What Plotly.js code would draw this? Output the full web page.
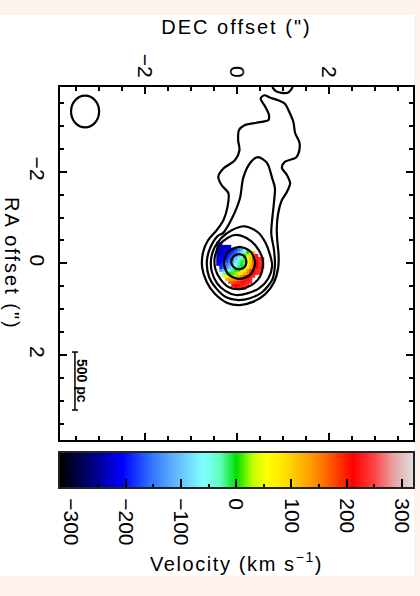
<!DOCTYPE html>
<html><head><meta charset="utf-8">
<script src="https://cdn.plot.ly/plotly-3.0.1.min.js"></script>
<style>
html,body{margin:0;padding:0;background:#fdf3ec}
.main-svg .xtitle,.main-svg .annotation[data-index="0"] .annotation-text{letter-spacing:2px}
.main-svg .x2title{letter-spacing:1.6px}
</style></head><body><div id="chart" style="width:420px;height:596px"></div>
<script>
// Contours (DEC offset, RA offset in arcsec)
const contourAx=[0.60,0.72,0.90,1.05,1.14,1.23,1.27,1.36,1.36,1.29,1.05,0.98,1.09,1.16,1.09,0.98,0.90,0.87,0.88,0.91,0.90,0.81,0.62,0.35,0.07,-0.19,-0.47,-0.65,-0.75,-0.73,-0.62,-0.43,-0.29,-0.20,-0.18,-0.33,-0.40,-0.29,-0.04,0.06,0.03,0.05,0.18,0.43,0.69,0.70,0.62,0.52,0.60];
const contourAy=[-3.67,-3.62,-3.56,-3.48,-3.31,-3.09,-2.84,-2.65,-2.47,-2.31,-2.22,-2.09,-1.93,-1.75,-1.56,-1.38,-1.09,-0.76,-0.51,-0.18,0.10,0.41,0.67,0.84,0.91,0.87,0.67,0.41,0.10,-0.25,-0.51,-0.73,-0.94,-1.24,-1.53,-1.71,-1.89,-2.07,-2.25,-2.47,-2.69,-2.91,-3.02,-3.07,-3.13,-3.24,-3.42,-3.60,-3.67];
const contourBx=[0.46,0.66,0.77,0.83,0.81,0.75,0.81,0.83,0.77,0.55,0.29,0.03,-0.23,-0.45,-0.60,-0.65,-0.58,-0.41,-0.30,-0.10,0.07,0.14,0.29,0.46];
const contourBy=[-2.32,-2.19,-1.86,-1.64,-1.34,-0.66,-0.29,0.04,0.36,0.63,0.76,0.80,0.74,0.54,0.30,-0.03,-0.33,-0.60,-0.66,-0.99,-1.42,-1.86,-2.19,-2.32];
const contourCx=[0.18,0.46,0.62,0.72,0.77,0.68,0.49,0.25,-0.02,-0.25,-0.43,-0.54,-0.56,-0.49,-0.34,-0.10,0.18];
const contourCy=[-0.81,-0.68,-0.46,-0.20,0.06,0.34,0.54,0.65,0.69,0.60,0.43,0.19,-0.07,-0.33,-0.55,-0.73,-0.81];
const contourDx=[-0.04,0.22,0.40,0.55,0.57,0.51,0.33,0.07,-0.17,-0.36,-0.47,-0.47,-0.36,-0.21,-0.04];
const contourDy=[-0.62,-0.55,-0.40,-0.14,0.04,0.28,0.47,0.56,0.52,0.34,0.10,-0.18,-0.42,-0.55,-0.62];
const contourEx=[0.06,0.30,0.40,0.30,0.06,-0.18,-0.28,-0.18,0.06];
const contourEy=[-0.36,-0.26,-0.01,0.24,0.34,0.24,-0.01,-0.26,-0.36];
const contourFx=[0.05,0.17,0.21,0.17,0.05,-0.07,-0.12,-0.07,0.05];
const contourFy=[-0.20,-0.15,-0.03,0.08,0.13,0.08,-0.03,-0.15,-0.20];
const contourGx=[0.77,0.85,0.98,1.12,1.22];
const contourGy=[-3.85,-3.76,-3.72,-3.73,-3.85];
// Velocity field (km/s)
const velDec=[-0.41,-0.34,-0.28,-0.21,-0.15,-0.08,-0.02,0.05,0.11,0.18,0.24,0.31,0.37,0.44,0.50,0.57,0.63];
const velRa=[-0.44,-0.38,-0.31,-0.25,-0.18,-0.12,-0.05,0.02,0.08,0.15,0.21,0.28,0.34,0.41,0.47,0.54];
const n=null;
const velocity=[
[-240,-235,n,n,n,n,n,n,n,n,n,n,n,n,n,n,n],
[-240,-235,-230,-220,-210,n,n,n,n,n,n,n,n,n,n,n,n],
[-240,-235,-230,-225,-215,-200,-180,-150,-120,n,n,n,n,n,n,n,n],
[-240,-235,-225,-215,-200,-185,-160,-120,-80,-35,0,50,110,n,n,n,n],
[-235,-225,-215,-200,-185,-165,-130,-95,-55,-10,40,100,170,220,n,n,n],
[-230,-220,-205,-190,-170,-140,-105,-70,-35,5,55,110,170,220,235,240,n],
[-225,-210,-195,-175,-150,-120,-75,-35,-15,15,60,110,165,215,235,240,n],
[-215,-195,-175,-150,-125,-95,-55,-25,-5,25,70,115,165,210,235,240,n],
[n,-190,-165,-135,-105,-70,-40,-15,5,35,80,125,170,210,230,235,n],
[n,-130,-100,-70,-40,-20,-5,15,50,90,135,175,210,230,235,n,n],
[n,n,-40,-20,-5,10,20,40,70,110,150,190,215,230,235,n,n],
[n,n,50,60,70,80,95,120,150,180,210,225,235,n,n,n,n],
[n,n,n,120,130,135,145,160,180,200,220,230,n,n,n,n,n],
[n,n,n,n,170,175,180,190,205,220,230,235,n,n,n,n,n],
[n,n,n,n,n,205,210,215,225,232,238,n,n,n,n,n,n],
[n,n,n,n,n,n,225,230,235,240,n,n,n,n,n,n,n]];
// Colour bar samples
const barVelocity=[-320,-300,-280,-260,-240,-220,-200,-180,-160,-140,-120,-100,-80,-60,-40,-20,0,20,40,60,80,100,120,140,160,180,200,220,240,260,280,300,320];
const barLevel=[0,1];
const barTicks=[-300,-200,-100,0,100,200,300];
// Beam and scale bar (arcsec)
const beamDec=[-3.60,-2.99];
const beamRa=[-3.66,-2.97];
const scaleDec=[-3.58,-3.45,null,-3.515,-3.515,null,-3.58,-3.45];
const scaleRa=[1.935,1.935,null,1.935,3.20,null,3.20,3.20];

const colorscale=[[0,'#000000'],[0.175,'#0000ff'],[0.254,'#2f6fff'],[0.319,'#5fb0ff'],[0.405,'#80ffff'],[0.452,'#60ffc0'],[0.499,'#00e000'],[0.546,'#c0ff00'],[0.585,'#ffff00'],[0.64,'#ffe000'],[0.734,'#ff8000'],[0.828,'#ff0000'],[0.886,'#ff4040'],[0.942,'#e8a0a0'],[1,'#e0e0e0']];
const W=420,H=596,font='"Liberation Sans",Arial,sans-serif';
const contour=(x,y,shape)=>({type:'scatter',mode:'lines',x,y,xaxis:'x',yaxis:'y',hoverinfo:'skip',showlegend:false,
  line:{color:'#000',width:2.2,shape:shape||'spline',smoothing:0.8},cliponaxis:true});
const data=[
 {type:'heatmap',x:velDec,y:velRa,z:velocity,colorscale,zmin:-319,zmax:320,showscale:false,xaxis:'x',yaxis:'y',hoverongaps:false},
 contour(contourAx,contourAy),contour(contourBx,contourBy),contour(contourCx,contourCy),
 contour(contourDx,contourDy),contour(contourEx,contourEy),contour(contourFx,contourFy),contour(contourGx,contourGy),
 {type:'scatter',mode:'lines',x:scaleDec,y:scaleRa,xaxis:'x',yaxis:'y',showlegend:false,line:{color:'#000',width:1.5}},
 {type:'heatmap',x:barVelocity,y:barLevel,z:[barVelocity,barVelocity],colorscale,zmin:-319,zmax:320,zsmooth:'best',showscale:false,xaxis:'x2',yaxis:'y2'}
];
const frame={showline:true,linecolor:'#000',linewidth:2,showgrid:false,zeroline:false,ticks:'inside',ticklen:7,tickwidth:2,tickcolor:'#000',
  tickangle:90,tickfont:{family:font,size:21,color:'#000'}};
const layout={width:W,height:H,margin:{l:0,r:0,t:0,b:0,pad:0},paper_bgcolor:'#fdf3ec',plot_bgcolor:'#fff',font:{family:font,color:'#000'},showlegend:false,
 xaxis:Object.assign({},frame,{domain:[60/W,413/W],anchor:'y',side:'top',range:[-3.84,3.83],tickmode:'array',tickvals:[-2,0,2],mirror:'allticks',
   minor:{dtick:0.5,ticks:'inside',ticklen:4,tickwidth:2,tickcolor:'#000',showgrid:false},
   title:{text:'DEC offset (")',font:{family:font,size:20,color:'#000'},standoff:14}}),
 yaxis:Object.assign({},frame,{domain:[1-440/H,1-87/H],anchor:'x',range:[3.855,-3.85],tickmode:'array',tickvals:[-2,0,2],mirror:'allticks',ticklabelstandoff:3,
   minor:{dtick:0.5,ticks:'inside',ticklen:4,tickwidth:2,tickcolor:'#000',showgrid:false}}),
 xaxis2:Object.assign({},frame,{domain:[60/W,413/W],anchor:'y2',side:'bottom',range:[-319,320],tickmode:'array',tickvals:barTicks,mirror:true,ticklen:8,ticklabelstandoff:5,
   linecolor:'#222',minor:{dtick:50,ticks:'inside',ticklen:3,tickwidth:2,tickcolor:'#000',showgrid:false},
   title:{text:'Velocity (km s<sup>−1</sup>)',font:{family:font,size:20,color:'#000'},standoff:12}}),
 yaxis2:{domain:[1-487/H,1-453/H],anchor:'x2',range:[0,1],showticklabels:false,ticks:'',showgrid:false,zeroline:false,showline:true,mirror:true,linecolor:'#222',linewidth:2},
 shapes:[
  {type:'rect',xref:'paper',yref:'paper',x0:0,x1:414/W,y0:1-576/H,y1:1-15/H,fillcolor:'#fff',line:{width:0},layer:'below'},
  {type:'circle',xref:'x',yref:'y',x0:beamDec[0],x1:beamDec[1],y0:beamRa[0],y1:beamRa[1],line:{color:'#000',width:2.2}}
 ],
 annotations:[
  {xref:'paper',yref:'paper',x:12/W,y:1-263/H,text:'RA offset (")',textangle:90,showarrow:false,xanchor:'center',yanchor:'middle',font:{family:font,size:20,color:'#000'}},
  {xref:'x',yref:'y',x:-3.36,y:2.57,text:'<b>500 pc</b>',textangle:90,showarrow:false,xanchor:'center',yanchor:'middle',font:{family:font,size:14,color:'#000'}}
 ]};
Plotly.newPlot('chart',data,layout,{displayModeBar:false,staticPlot:true});
</script></body></html>
